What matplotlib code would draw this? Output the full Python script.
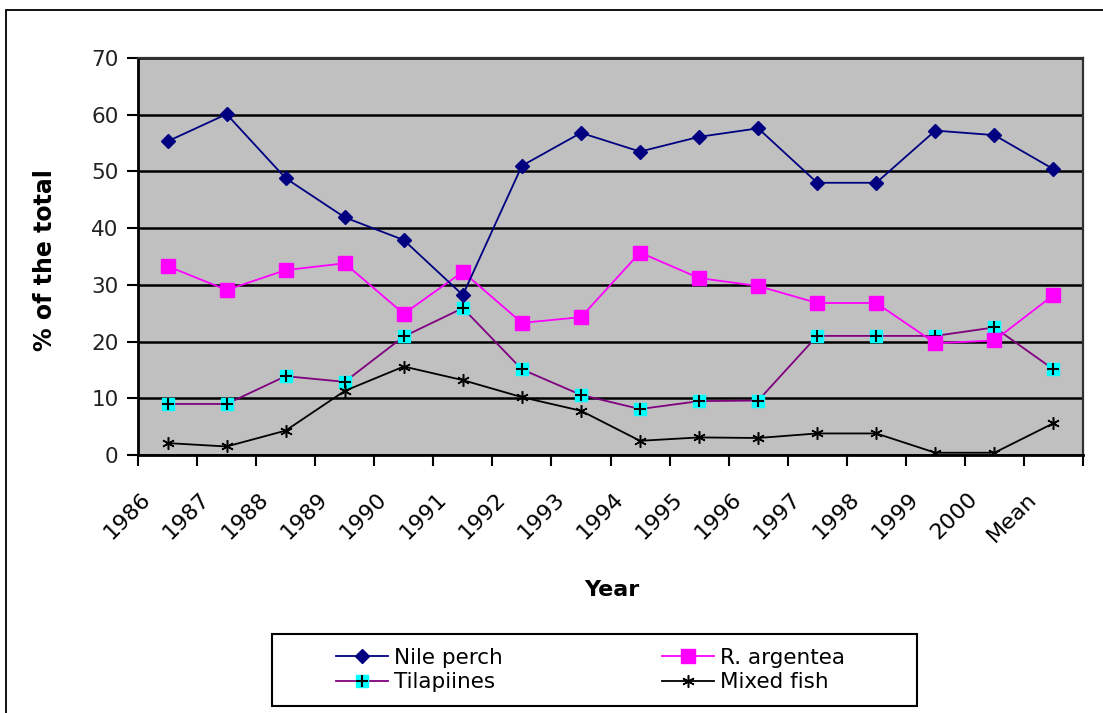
import matplotlib
matplotlib.use("Agg")
import matplotlib.pyplot as plt
from matplotlib.patches import Rectangle
from matplotlib.legend_handler import HandlerTuple
from matplotlib.transforms import ScaledTranslation, blended_transform_factory
import numpy as np

categories = ["1986", "1987", "1988", "1989", "1990", "1991", "1992", "1993",
              "1994", "1995", "1996", "1997", "1998", "1999", "2000", "Mean"]
nile_perch = [55.3, 60.1, 48.8, 41.9, 37.9, 28.2, 51.0, 56.8,
              53.5, 56.1, 57.6, 48.0, 48.0, 57.2, 56.4, 50.4]
r_argentea = [33.3, 29.1, 32.6, 33.8, 24.9, 32.3, 23.3, 24.3,
              35.7, 31.2, 29.8, 26.8, 26.8, 19.7, 20.2, 28.2]
tilapiines = [9.0, 9.0, 13.9, 12.9, 20.9, 25.9, 15.1, 10.6,
              8.1, 9.5, 9.6, 21.0, 21.0, 21.0, 22.5, 15.1]
mixed_fish = [2.1, 1.5, 4.3, 11.3, 15.6, 13.2, 10.2, 7.8,
              2.5, 3.1, 3.0, 3.8, 3.8, 0.4, 0.4, 5.6]
y_ticks = [0, 10, 20, 30, 40, 50, 60, 70]

W, H = 1103, 713
fig = plt.figure(figsize=(W / 100, H / 100), dpi=100)
fig.patch.set_facecolor("white")

# outer chart frame
fig.add_artist(Rectangle((6 / W, -0.2), 1.5, 1.2 - 10 / H, transform=fig.transFigure,
                         fill=False, edgecolor="black", linewidth=1.3))

left, right, top, bottom = 138, 1083, 58, 455
ax = fig.add_axes([left / W, 1 - bottom / H, (right - left) / W, (bottom - top) / H])
ax.set_facecolor("#C0C0C0")

x = np.arange(len(categories))

ax.plot(x, nile_perch, color="#000080", lw=1.3, marker="D", markersize=7,
        markerfacecolor="#000080", markeredgecolor="#000080", label="Nile perch", zorder=5)
ax.plot(x, r_argentea, color="#FF00FF", lw=1.3, marker="s", markersize=9.5,
        markerfacecolor="#FF00FF", markeredgecolor="#FF00FF", label="R. argentea", zorder=4)
til_line, = ax.plot(x, tilapiines, color="#800080", lw=1.3, marker="s", markersize=8.5,
                    markerfacecolor="#00FFFF", markeredgecolor="#00FFFF", zorder=3)
til_plus, = ax.plot(x, tilapiines, color="none", lw=0, marker="+", markersize=9,
                    markeredgecolor="black", markeredgewidth=1.5, zorder=3.5)
mix_line, = ax.plot(x, mixed_fish, color="black", lw=1.3, marker=(6, 2, 0), markersize=9,
                    markeredgecolor="black", markeredgewidth=1.1, label="Mixed fish", zorder=3)

ax.set_xlim(-0.5, len(categories) - 0.5)
ax.set_ylim(0, 70)
ax.set_yticks(y_ticks)
ax.yaxis.grid(True, color="black", linewidth=1.8)
ax.set_axisbelow(True)

# ticks at category boundaries; rotated category labels drawn below the axis
ax.set_xticks(np.arange(-0.5, len(categories), 1.0))
ax.set_xticklabels([])
ax.tick_params(axis="x", which="major", length=8, width=1.5, color="black", direction="out")
label_trans = blended_transform_factory(ax.transData, ax.transAxes) + \
    ScaledTranslation(-20 / 100, -41 / 100, fig.dpi_scale_trans)
for xi, cat in zip(x, categories):
    ax.text(xi, 0, cat, transform=label_trans, rotation=45, ha="right", va="center",
            rotation_mode="anchor", fontsize=16, family="DejaVu Sans", clip_on=False)

ax.tick_params(axis="y", length=8, width=1.5, direction="out", pad=6, labelsize=15.5)
for lab in ax.get_yticklabels():
    lab.set_family("DejaVu Sans")
    lab.set_color("#222222")

for s in ("left", "bottom"):
    ax.spines[s].set_color("black")
    ax.spines[s].set_linewidth(2)
for s in ("top", "right"):
    ax.spines[s].set_color("#303030")
    ax.spines[s].set_linewidth(1.6)

fig.text(612 / W, 1 - 590 / H, "Year", ha="center", va="center",
         fontsize=16, fontweight="bold", family="DejaVu Sans")
fig.text(45 / W, 1 - 260 / H, "% of the total", ha="center", va="center", rotation=90,
         fontsize=17, fontweight="bold", family="DejaVu Sans")

# legend box
lx0, lx1, ly0, ly1 = 272, 917, 634, 706
fig.add_artist(Rectangle((lx0 / W, 1 - ly1 / H), (lx1 - lx0) / W, (ly1 - ly0) / H,
                         transform=fig.transFigure, fill=False, edgecolor="black", linewidth=1.5))
handles = [ax.lines[0], (til_line, til_plus), ax.lines[1], mix_line]
labels = ["Nile perch", "Tilapiines", "R. argentea", "Mixed fish"]
leg = fig.legend(handles, labels, ncol=2, loc="center",
                 bbox_to_anchor=((lx0 + lx1) / 2 / W - 4 / W, 1 - (ly0 + ly1) / 2 / H),
                 frameon=False, handlelength=2.4, handletextpad=0.3,
                 columnspacing=7.4, labelspacing=0.2, borderpad=0,
                 handler_map={tuple: HandlerTuple(ndivide=1)},
                 prop={"family": "DejaVu Sans", "size": 15.5})

fig.savefig("out.png", dpi=100)
